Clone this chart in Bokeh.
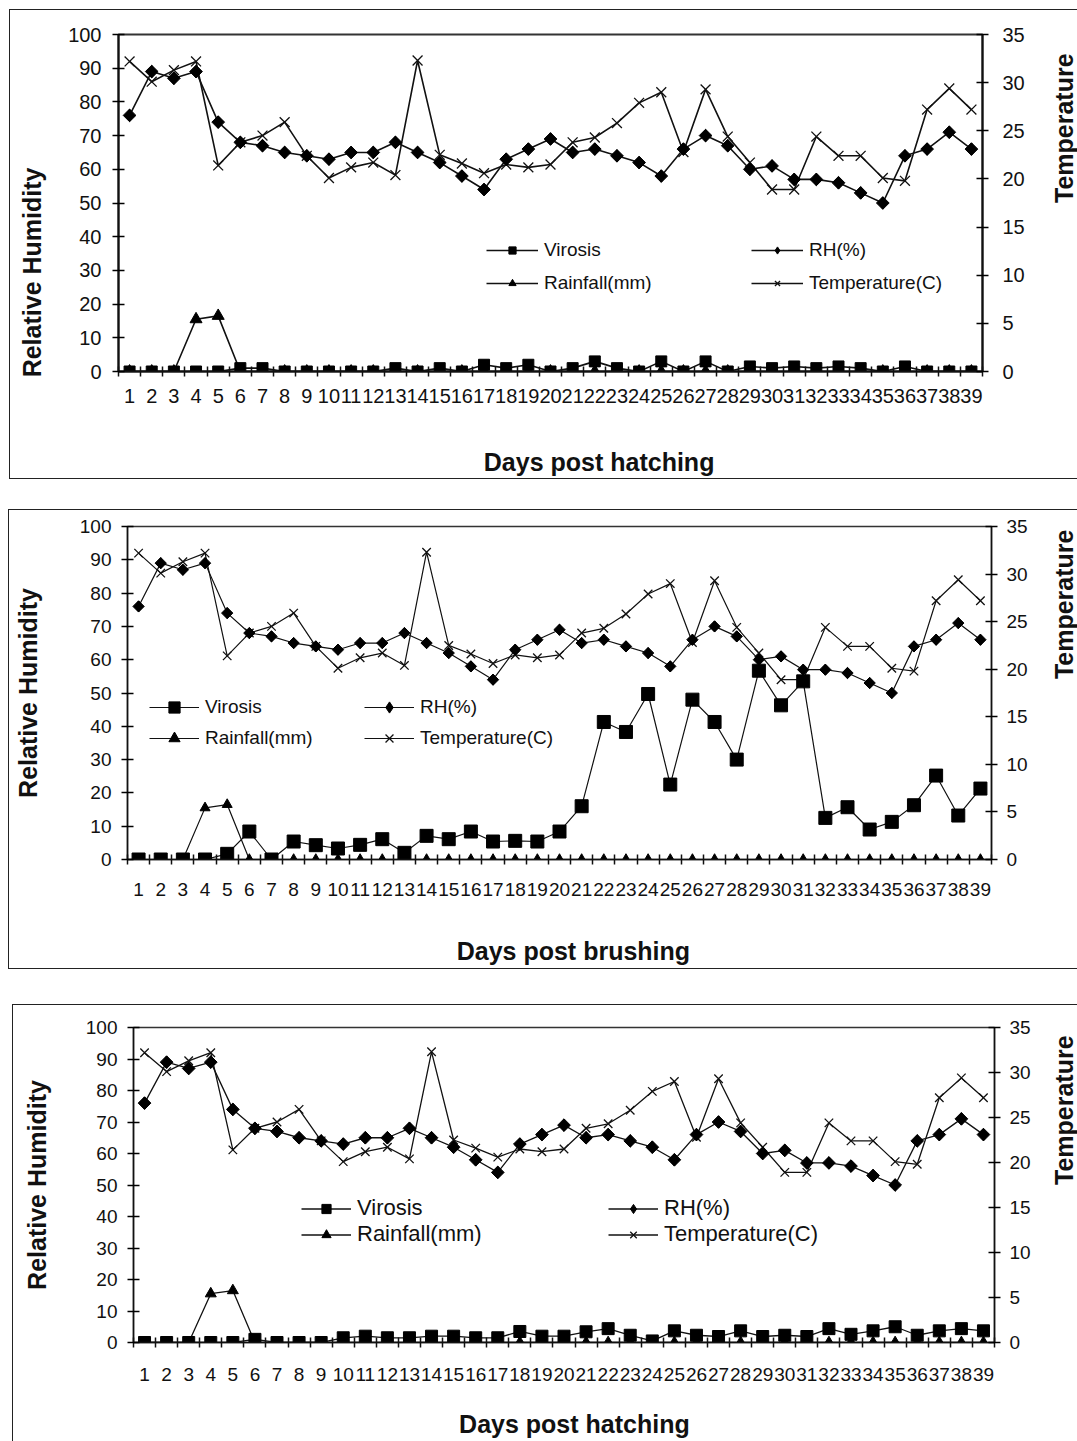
import numpy as np
from bokeh.plotting import figure
from bokeh.models import Range1d, LinearAxis, FixedTicker, Legend, LegendItem
from bokeh.embed import file_html
from bokeh.resources import INLINE

# ---------------- data ----------------
days = list(range(1, 40))
left_ticks = [0, 10, 20, 30, 40, 50, 60, 70, 80, 90, 100]
right_ticks = [0, 5, 10, 15, 20, 25, 30, 35]

rh = [76, 89, 87, 89, 74, 68, 67, 65, 64, 63, 65, 65, 68, 65, 62, 58, 54, 63, 66, 69,
      65, 66, 64, 62, 58, 66, 70, 67, 60, 61, 57, 57, 56, 53, 50, 64, 66, 71, 66]
temperature = [32.2, 30.1, 31.3, 32.2, 21.4, 23.8, 24.5, 25.9, 22.4, 20.1, 21.2, 21.7, 20.4,
               32.3, 22.5, 21.6, 20.6, 21.5, 21.2, 21.5, 23.8, 24.3, 25.8, 27.9, 29.0, 22.8,
               29.3, 24.4, 21.7, 18.9, 18.9, 24.4, 22.4, 22.4, 20.1, 19.8, 27.2, 29.4, 27.2]
rainfall = [0, 0, 0, 15.5, 16.5, 0, 0, 0, 0, 0, 0, 0, 0, 0, 0, 0, 0, 0, 0, 0,
            0, 0, 0, 0, 0, 0, 0, 0, 0, 0, 0, 0, 0, 0, 0, 0, 0, 0, 0]
virosis_hatching_a = [0, 0, 0, 0, 0, 1, 1, 0, 0, 0, 0, 0, 1, 0, 1, 0, 2, 1, 2, 0,
                      1, 3, 1, 0, 3, 0, 3, 0, 1.5, 1, 1.5, 1, 1.5, 1, 0, 1.5, 0, 0, 0]
virosis_brushing = [0, 0, 0, 0, 1.7, 8.4, 0, 5.4, 4.3, 3.3, 4.4, 6.1, 2, 7.1, 6.1, 8.4, 5.4,
                    5.6, 5.4, 8.4, 16, 41.3, 38.3, 49.7, 22.5, 48, 41.3, 30, 56.7, 46.3, 53.5,
                    12.5, 15.7, 9, 11.3, 16.3, 25.2, 13.2, 21.3]
virosis_hatching_b = [0, 0, 0, 0, 0, 1, 0, 0, 0, 1.5, 2, 1.5, 1.5, 2, 2, 1.5, 1.5, 3.5, 2, 2,
                      3.4, 4.4, 2.3, 0.5, 3.7, 2.3, 1.9, 3.7, 1.9, 2.3, 1.9, 4.4, 2.6, 3.7, 5,
                      2.3, 3.7, 4.4, 3.7]

FONT = "Liberation Sans"
INK = "#111111"
NB = "\u00a0"


def style_axis(ax, g, stand, lab_stand):
    ax.axis_line_width = g["aw"]
    ax.axis_line_color = INK
    ax.major_label_standoff = stand
    ax.major_label_text_font = FONT
    ax.major_label_text_font_size = g["fs"]
    ax.major_label_text_color = INK
    ax.axis_label_text_font = FONT
    ax.axis_label_text_font_style = "bold"
    ax.axis_label_text_font_size = g["afs"]
    ax.axis_label_text_color = INK
    ax.axis_label_standoff = lab_stand


def make_panel(virosis, xlabel, ylabel, tlabel, g):
    p = figure(frame_width=g["FW"], frame_height=g["FH"],
               x_range=Range1d(0.5, 39.5), y_range=Range1d(0, 100),
               output_backend="svg", toolbar_location=None,
               x_axis_location=None, y_axis_location=None,
               min_border_left=g["bl"], min_border_right=g["br"],
               min_border_top=g["bt"], min_border_bottom=g["bb"])
    p.extra_y_ranges = {"temp": Range1d(0, 35)}
    p.grid.visible = False
    p.outline_line_color = "#333333"
    p.outline_line_width = g["aw"]

    xa = LinearAxis(ticker=FixedTicker(ticks=days,
                                       minor_ticks=[d - 0.5 for d in days] + [39.5]),
                    axis_label=xlabel)
    xa.major_tick_in = 0
    xa.major_tick_out = 0
    xa.minor_tick_in = 5
    xa.minor_tick_out = 5
    xa.minor_tick_line_color = INK
    xa.minor_tick_line_width = 1.5
    style_axis(xa, g, g["xstand"], g["xls"])
    p.add_layout(xa, "below")

    ya = LinearAxis(ticker=FixedTicker(ticks=left_ticks, minor_ticks=[]),
                    axis_label=ylabel)
    ya.major_tick_in = 6
    ya.major_tick_out = 6
    ya.major_tick_line_width = 1.5
    style_axis(ya, g, g["ystand"], g["yls"])
    p.add_layout(ya, "left")

    ra = LinearAxis(y_range_name="temp",
                    ticker=FixedTicker(ticks=right_ticks, minor_ticks=[]),
                    axis_label=tlabel)
    ra.major_tick_in = 6
    ra.major_tick_out = 6
    ra.major_tick_line_width = 1.5
    style_axis(ra, g, g["rstand"], g["rls"])
    ra.axis_label_orientation = np.pi / 2
    ra.axis_label_text_line_height = 0.7
    p.add_layout(ra, "right")

    lw = g["lw"]
    tl = p.line(days, temperature, y_range_name="temp", line_color=INK, line_width=lw)
    ts = p.scatter(days, temperature, y_range_name="temp", marker="x",
                   size=g["sx"], line_color=INK, line_width=1.3)
    hl = p.line(days, rh, line_color=INK, line_width=lw)
    hd = p.scatter(days, rh, marker="diamond", size=g["sd"] * 1.35,
                   fill_color="black", line_color="black")
    p.scatter(days, rh, marker="square", angle=np.pi / 4, size=g["sd"],
              fill_color="black", line_color="black")
    rl = p.line(days, rainfall, line_color=INK, line_width=lw)
    rs = p.scatter(days, rainfall, marker="triangle", size=g["st"],
                   fill_color="black", line_color="black")
    vl = p.line(days, virosis, line_color=INK, line_width=lw)
    vs = p.scatter(days, virosis, marker="square", size=g["ss"],
                   fill_color="black", line_color="black")

    common = dict(orientation="vertical", border_line_color=None,
                  background_fill_alpha=0, padding=0, margin=0,
                  spacing=g["lsp"], glyph_width=g["gw"], glyph_height=g["gh"],
                  label_height=20, label_standoff=6,
                  label_text_font=FONT, label_text_font_size=g["lfs"],
                  label_text_color=INK)
    leg1 = Legend(items=[LegendItem(label="Virosis", renderers=[vl, vs]),
                         LegendItem(label="Rainfall(mm)", renderers=[rl, rs])],
                  location=(g["l1x"], g["ly"]), **common)
    leg2 = Legend(items=[LegendItem(label="RH(%)", renderers=[hl, hd]),
                         LegendItem(label="Temperature(C)", renderers=[tl, ts])],
                  location=(g["l2x"], g["ly"]), **common)
    p.add_layout(leg1)
    p.add_layout(leg2)

    box = {"border-left": "1px solid #222", "border-top": "1px solid #222",
           "box-sizing": "border-box"}
    if g["bottom_line"]:
        box["border-bottom"] = "1px solid #222"
    p.styles = box
    return p


g1 = dict(FW=864, FH=337, bl=108, br=96, bt=24, bb=105, aw=2, lw=1.6,
          fs="20px", afs="25px", xstand=12, ystand=11, rstand=14,
          xls=42, yls=19, rls=36,
          sx=14, sd=9, st=12, ss=11, lsp=11, gw=52, gh=18, lfs="19px",
          l1x=368, l2x=633, ly=77, bottom_line=True)
g2 = dict(FW=864, FH=333, bl=118, br=87, bt=16, bb=109, aw=1.5, lw=1.2,
          fs="19px", afs="25px", xstand=18, ystand=10, rstand=9,
          xls=38, yls=35, rls=33,
          sx=12, sd=8, st=10, ss=13, lsp=3, gw=50, gh=28, lfs="19px",
          l1x=22, l2x=237, ly=107, bottom_line=True)
g3 = dict(FW=861, FH=315, bl=120, br=84, bt=22, bb=101, aw=1.5, lw=1.3,
          fs="19px", afs="25px", xstand=20, ystand=10, rstand=9,
          xls=26, yls=32, rls=30,
          sx=12, sd=9, st=11, ss=12, lsp=0, gw=50, gh=23, lfs="22px",
          l1x=168, l2x=475, ly=95, bottom_line=False)

p1 = make_panel(virosis_hatching_a, NB * 14 + "Days post hatching",
                "Relative Humidity" + NB * 20, "Temperature" + NB * 2, g1)
p2 = make_panel(virosis_brushing, NB * 4 + "Days post brushing",
                "Relative Humidity", NB * 2 + "Temperature", g2)
p3 = make_panel(virosis_hatching_b, NB * 3 + "Days post hatching",
                "Relative Humidity", "Temperature", g3)
p1.margin = (9, 0, 0, 9)
p2.margin = (30, 0, 0, 8)
p3.margin = (35, 0, 0, 12)

open("out.html", "w").write(file_html([p1, p2, p3], INLINE))
